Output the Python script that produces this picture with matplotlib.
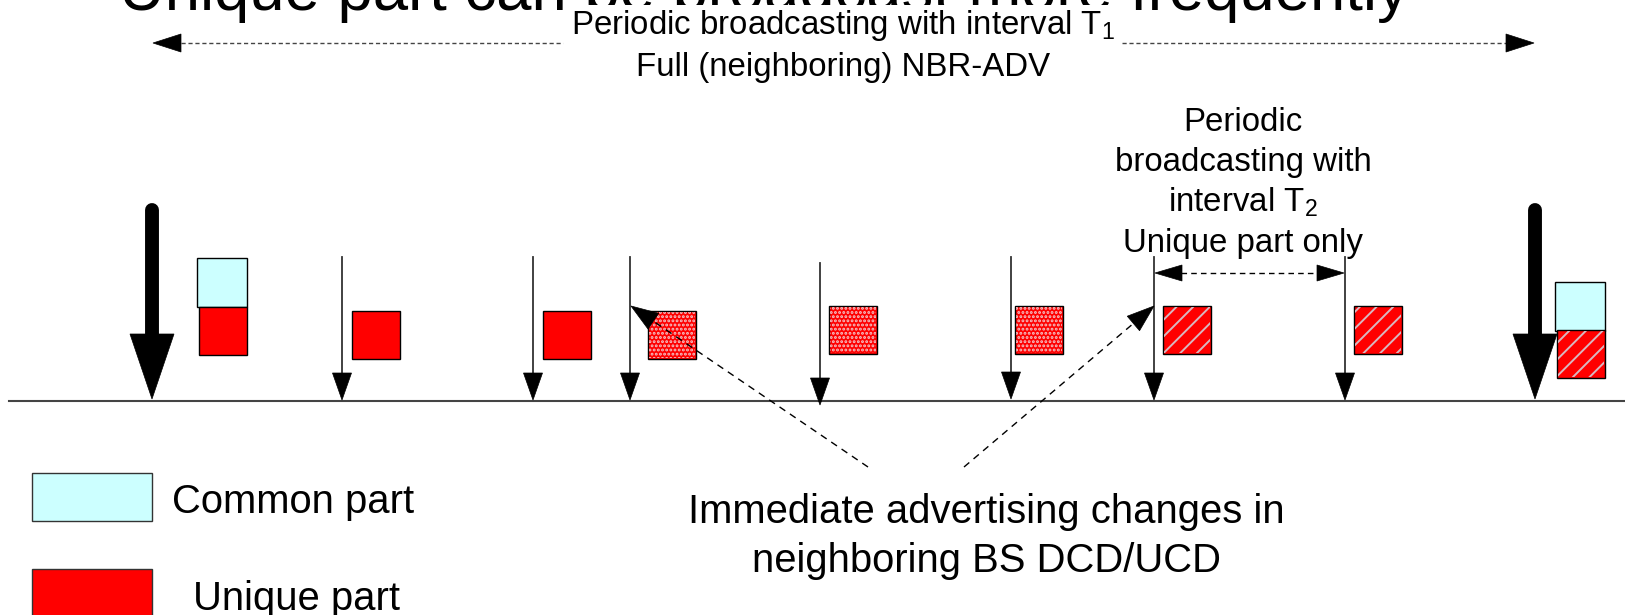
import matplotlib.pyplot as plt
import matplotlib.patches as mpatches
import numpy as np

plt.rcParams['font.family'] = ['Liberation Sans', 'DejaVu Sans']
plt.rcParams['mathtext.fontset'] = 'custom'
plt.rcParams['mathtext.rm'] = 'Liberation Sans'
plt.rcParams['mathtext.it'] = 'Liberation Sans'
plt.rcParams['hatch.linewidth'] = 1.4

# texts of the diagram
title = "Unique part can be broadcast more frequently"
t1_lines = [r"Periodic broadcasting with interval T$_{\mathrm{1}}$", "Full (neighboring) NBR-ADV"]
t2_lines = ["Periodic", "broadcasting with", r"interval T$_{\mathrm{2}}$", "Unique part only"]
change_lines = ["Immediate advertising changes in", "neighboring BS DCD/UCD"]
legend_labels = ["Common part", "Unique part"]

# full NBR-ADV broadcasts (thick arrows)
full_x = [152, 1535]
# unique part only broadcasts (thin arrows)
thin_x = [342, 533, 630, 820, 1011, 1154, 1345]
thin_top = [257, 257, 257, 263, 257, 257, 257]
thin_tip = [400, 400, 400, 405, 399, 400, 400]

# unique part boxes
unique_x = [199, 352, 543, 648, 829, 1015, 1163, 1354, 1557]
unique_y = [307, 311, 311, 311, 306, 306, 306, 306, 330]
unique_fill = ['solid', 'solid', 'solid', 'dots', 'dots', 'dots',
               'stripes', 'stripes', 'stripes']
# common part boxes
common_x = [197, 1555]
common_y = [258, 282]

CYAN = '#ccffff'
RED = '#ff0000'


def head(ax, tip, direction, length, width):
    # filled triangular arrow head
    tip = np.array(tip, dtype=float)
    d = np.array(direction, dtype=float)
    d = d / np.linalg.norm(d)
    base = tip - d * length
    n = np.array([-d[1], d[0]])
    pts = [tip, base + n * width / 2, base - n * width / 2]
    ax.add_patch(mpatches.Polygon(pts, closed=True, facecolor='black', edgecolor='black', lw=0.5, zorder=5))


fig = plt.figure(figsize=(16.25, 6.15), dpi=100)
ax = fig.add_axes([0, 0, 1, 1])
ax.set_xlim(0, 1625)
ax.set_ylim(615, 0)
ax.axis('off')

# title, cut off at the top
ax.text(764, 10, title, fontsize=45.6, ha='center', va='baseline')

# T1 interval
ax.plot([181, 563], [43, 43], color='#444444', lw=1, ls=(0, (3, 2)))
ax.plot([1122, 1506], [43, 43], color='#444444', lw=1, ls=(0, (3, 2)))
head(ax, (153, 43), (-1, 0), 28, 18)
head(ax, (1534, 43), (1, 0), 28, 18)
ax.text(843, 34, t1_lines[0], fontsize=23.8, ha='center', va='baseline',
        bbox=dict(facecolor='white', edgecolor='none', pad=2))
ax.text(843, 76, t1_lines[1], fontsize=23.8, ha='center', va='baseline')

# time axis
ax.plot([9, 1625], [401, 401], color='#444444', lw=1.5)

# thick arrows
for x in full_x:
    ax.plot([x, x], [210, 336], color='black', lw=10, solid_capstyle='round')
    head(ax, (x, 399), (0, 1), 65, 44)

# thin arrows
for x, top, tip in zip(thin_x, thin_top, thin_tip):
    ax.plot([x, x], [top, tip - 20], color='#333333', lw=1.3)
    head(ax, (x, tip), (0, 1), 27, 19)

# boxes
for x, y in zip(common_x, common_y):
    ax.add_patch(mpatches.Rectangle((x, y), 50, 49, facecolor=CYAN, edgecolor='black', lw=1))

for x, y, f in zip(unique_x, unique_y, unique_fill):
    ax.add_patch(mpatches.Rectangle((x, y), 48, 48, facecolor=RED, edgecolor='black', lw=1))
    if f == 'dots':
        ax.add_patch(mpatches.Rectangle((x + 1, y + 1), 46, 46, fill=False, hatch='....',
                                        edgecolor='#f2c4c8', lw=0))
    elif f == 'stripes':
        ax.add_patch(mpatches.Rectangle((x + 1, y + 1), 46, 46, fill=False, hatch='//',
                                        edgecolor='#d8b8c0', lw=0))

# T2 interval
for i, line in enumerate(t2_lines):
    ax.text(1243, 131 + i * 40.3, line, fontsize=23.8, ha='center', va='baseline')
ax.plot([1181, 1318], [273, 273], color='black', lw=1, ls=(0, (4, 3)))
head(ax, (1155, 273), (-1, 0), 27, 16)
head(ax, (1344, 273), (1, 0), 27, 16)

# immediate changes
for start, tip in [((868, 467), (631, 306)), ((964, 467), (1154, 306))]:
    d = np.array(tip) - np.array(start)
    end = np.array(tip) - d / np.linalg.norm(d) * 24
    ax.plot([start[0], end[0]], [start[1], end[1]], color='black', lw=1, ls=(0, (5, 4)))
    head(ax, tip, d, 27, 19)

ax.text(986, 523, change_lines[0], fontsize=28.8, ha='center', va='baseline')
ax.text(986, 572, change_lines[1], fontsize=28.8, ha='center', va='baseline')

# legend
ax.add_patch(mpatches.Rectangle((32, 473), 120, 48, facecolor=CYAN, edgecolor='#333333', lw=1))
ax.add_patch(mpatches.Rectangle((32, 569), 120, 60, facecolor=RED, edgecolor='#333333', lw=1))
ax.text(172, 513, legend_labels[0], fontsize=28.8, ha='left', va='baseline')
ax.text(193, 610, legend_labels[1], fontsize=28.8, ha='left', va='baseline')

fig.savefig('out.png', dpi=100)
